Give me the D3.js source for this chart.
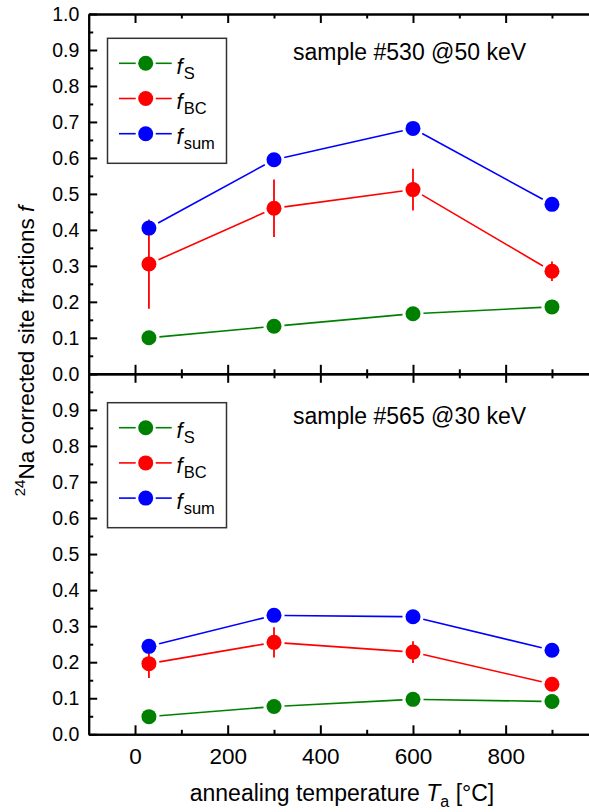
<!DOCTYPE html>
<html>
<head>
<meta charset="utf-8">
<script src="https://cdn.jsdelivr.net/npm/d3@7"></script>
<style>
  html, body { margin: 0; padding: 0; background: #fff; }
  svg { display: block; font-family: "Liberation Sans", Arial, Helvetica, sans-serif; }
</style>
</head>
<body>
<svg id="chart" width="589" height="812"></svg>
<script>
// Annealing temperatures (°C)
const temps = [30, 300, 600, 900];

// Sample #530 @50 keV
const s530_fS = [0.100, 0.132, 0.167, 0.186];
const s530_fBC = [0.305, 0.460, 0.512, 0.285];
const s530_fBC_err = [0.124, 0.080, 0.058, 0.027];
const s530_fSum = [0.405, 0.595, 0.682, 0.471];

// Sample #565 @30 keV
const s565_fS = [0.049, 0.077, 0.097, 0.091];
const s565_fBC = [0.196, 0.255, 0.228, 0.139];
const s565_fBC_err = [0.040, 0.042, 0.030, 0.010];
const s565_fSum = [0.244, 0.330, 0.326, 0.233];

// Series labels (subscripts of f) and colours
const seriesSubs = ["S", "BC", "sum"];
const seriesColors = ["#008000", "#ff0000", "#0000ff"];

// Axis ticks
const xMajorTicks = [0, 200, 400, 600, 800, 1000];
const xMinorTicks = [100, 300, 500, 700, 900];
const yMajorTicks = [0.0, 0.1, 0.2, 0.3, 0.4, 0.5, 0.6, 0.7, 0.8, 0.9, 1.0];
const yMinorTicks = [0.05, 0.15, 0.25, 0.35, 0.45, 0.55, 0.65, 0.75, 0.85, 0.95];

const panels = [
  { label: "sample #530 @50 keV", fS: s530_fS, fBC: s530_fBC, fBCerr: s530_fBC_err, fSum: s530_fSum },
  { label: "sample #565 @30 keV", fS: s565_fS, fBC: s565_fBC, fBCerr: s565_fBC_err, fSum: s565_fSum }
];

// Layout
const xLeft = 88.7, xRight = 598.3;
const panelBox = [
  { top: 14, bottom: 373.8, legendTop: 38.3, labelY: 60, showTopLabel: true },
  { top: 373.8, bottom: 734.3, legendTop: 402.7, labelY: 424.3, showTopLabel: false }
];
const markerR = 7.5;
const lineGap = 10.5;

const svg = d3.select("#chart");
const x = d3.scaleLinear().domain([-100, 1000]).range([xLeft, xRight]);

function styleAxis(g) {
  g.selectAll(".domain").attr("stroke", "#000").attr("stroke-width", 2);
  g.selectAll(".tick line").attr("stroke", "#000").attr("stroke-width", 2);
}

panels.forEach((p, i) => {
  const box = panelBox[i];
  const y = d3.scaleLinear().domain([0, 1]).range([box.bottom, box.top]);
  const g = svg.append("g");

  // Left axis (labels), ticks inward
  const yLabelTicks = box.showTopLabel ? yMajorTicks : yMajorTicks.slice(0, 10);
  const left = g.append("g").attr("transform", `translate(${xLeft},0)`)
    .call(d3.axisLeft(y).tickValues(yMajorTicks).tickSize(-8.5).tickSizeOuter(0).tickPadding(9.4)
      .tickFormat(d => yLabelTicks.some(v => Math.abs(v - d) < 1e-9) ? d3.format(".1f")(d) : ""));
  left.selectAll("text").attr("font-size", 19.5).attr("fill", "#000")
    .attr("font-family", "Liberation Sans, Arial, sans-serif");
  styleAxis(left);
  const leftMinor = g.append("g").attr("transform", `translate(${xLeft},0)`)
    .call(d3.axisLeft(y).tickValues(yMinorTicks).tickSize(-4.5).tickSizeOuter(0).tickFormat(""));
  styleAxis(leftMinor);

  // Right axis, ticks inward, no labels
  [yMajorTicks, yMinorTicks].forEach((vals, k) => {
    const r = g.append("g").attr("transform", `translate(${xRight},0)`)
      .call(d3.axisRight(y).tickValues(vals).tickSize(k === 0 ? -8.5 : -4.5).tickSizeOuter(0).tickFormat(""));
    styleAxis(r);
  });

  // Top and bottom axes, ticks inward
  [xMajorTicks, xMinorTicks].forEach((vals, k) => {
    const len = k === 0 ? -9 : -4.5;
    const t = g.append("g").attr("transform", `translate(0,${box.top})`)
      .call(d3.axisTop(x).tickValues(vals).tickSize(len).tickSizeOuter(0).tickFormat(""));
    styleAxis(t);
    const bAxis = d3.axisBottom(x).tickValues(vals).tickSize(len).tickSizeOuter(0).tickPadding(13.4);
    if (i === 1 && k === 0) {
      bAxis.tickFormat(d => d <= 800 ? d3.format("d")(d) : "");
    } else {
      bAxis.tickFormat("");
    }
    const b = g.append("g").attr("transform", `translate(0,${box.bottom})`).call(bAxis);
    b.selectAll("text").attr("font-size", 22.5).attr("fill", "#000")
      .attr("font-family", "Liberation Sans, Arial, sans-serif");
    styleAxis(b);
  });

  const series = [p.fS, p.fBC, p.fSum];

  // Connecting lines, stopped short of each symbol
  series.forEach((vals, s) => {
    const pts = temps.map((t, j) => [x(t), y(vals[j])]);
    for (let j = 0; j < pts.length - 1; j++) {
      const [x1, y1] = pts[j], [x2, y2] = pts[j + 1];
      const dx = x2 - x1, dy = y2 - y1, len = Math.hypot(dx, dy);
      if (len <= 2 * lineGap) continue;
      const ux = dx / len, uy = dy / len;
      g.append("line")
        .attr("x1", x1 + ux * lineGap).attr("y1", y1 + uy * lineGap)
        .attr("x2", x2 - ux * lineGap).attr("y2", y2 - uy * lineGap)
        .attr("stroke", seriesColors[s]).attr("stroke-width", 1.6);
    }
  });

  // Error bars of f_BC
  g.selectAll(".err").data(temps).enter().append("line")
    .attr("x1", t => x(t)).attr("x2", t => x(t))
    .attr("y1", (t, j) => y(p.fBC[j] - p.fBCerr[j]))
    .attr("y2", (t, j) => y(p.fBC[j] + p.fBCerr[j]))
    .attr("stroke", seriesColors[1]).attr("stroke-width", 1.8);

  // Symbols
  series.forEach((vals, s) => {
    g.selectAll(null).data(temps).enter().append("circle")
      .attr("cx", t => x(t)).attr("cy", (t, j) => y(vals[j]))
      .attr("r", markerR).attr("fill", seriesColors[s]);
  });

  // Sample label
  g.append("text").attr("x", 293).attr("y", box.labelY)
    .attr("font-size", 23).attr("fill", "#000").text(p.label);

  // Legend
  const lx0 = 107.5, lx1 = 226.5;
  g.append("rect").attr("x", lx0).attr("y", box.legendTop)
    .attr("width", lx1 - lx0).attr("height", 125)
    .attr("fill", "#fff").attr("stroke", "#333").attr("stroke-width", 1.5);
  seriesSubs.forEach((sub, s) => {
    const ry = box.legendTop + 25 + s * 35.2;
    const mx = 145.7;
    g.append("line").attr("x1", 119).attr("x2", mx - markerR - 2.5).attr("y1", ry).attr("y2", ry)
      .attr("stroke", seriesColors[s]).attr("stroke-width", 1.6);
    g.append("line").attr("x1", mx + markerR + 2.5).attr("x2", 171.7).attr("y1", ry).attr("y2", ry)
      .attr("stroke", seriesColors[s]).attr("stroke-width", 1.6);
    g.append("circle").attr("cx", mx).attr("cy", ry).attr("r", markerR).attr("fill", seriesColors[s]);
    const tx = g.append("text").attr("x", 176.5).attr("y", ry + 10.5).attr("font-size", 22).attr("fill", "#000");
    tx.append("tspan").attr("font-style", "italic").text("f");
    tx.append("tspan").attr("font-size", 16.5).attr("dy", 5).attr("dx", 1).text(sub);
  });
});

// Axis titles
const yTitle = svg.append("text")
  .attr("transform", "translate(34,351) rotate(-90)")
  .attr("text-anchor", "middle").attr("font-size", 22.5).attr("fill", "#000");
yTitle.append("tspan").attr("font-size", 15).attr("dy", -9).text("24");
yTitle.append("tspan").attr("dy", 9).text("Na corrected site fractions ");
yTitle.append("tspan").attr("font-style", "italic").text("f");

const xTitle = svg.append("text")
  .attr("x", (xLeft + xRight) / 2 - 1.5).attr("y", 800.7)
  .attr("text-anchor", "middle").attr("font-size", 23).attr("fill", "#000");
xTitle.append("tspan").text("annealing temperature ");
xTitle.append("tspan").attr("font-style", "italic").text("T");
xTitle.append("tspan").attr("font-size", 16).attr("dy", 6).text("a");
xTitle.append("tspan").attr("dy", -6).text(" [°C]");
</script>
</body>
</html>
